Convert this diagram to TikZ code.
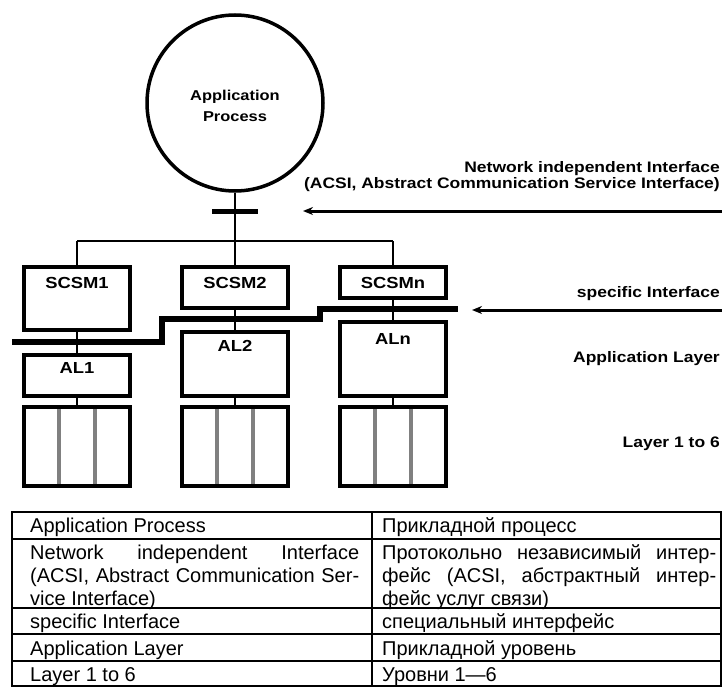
\documentclass[tikz,border=0pt]{standalone}
\usepackage{fontspec}
\setmainfont{Liberation Sans}
\newfontfamily\labfont{Liberation Sans}[FakeStretch=1.15]
\usetikzlibrary{arrows.meta,calc}
\begin{document}
\begin{tikzpicture}[x=1pt,y=-1pt,
  box/.style={draw,line width=4.5pt,minimum width=106pt,inner sep=0pt,outer sep=0pt},
  conn/.style={line width=2.6pt},
  iface/.style={line width=6.5pt},
  arr/.style={line width=3pt,-{Stealth[length=10pt,width=8pt]}},
  grayline/.style={line width=4pt,draw=black!50},
  blab/.style={font=\labfont\bfseries\fontsize{16}{16}\selectfont,inner sep=0pt},
  rlab/.style={font=\labfont\bfseries\fontsize{15.2}{15.2}\selectfont,inner sep=0pt,anchor=base east},
  tab/.style={line width=1.4pt},
  tt/.style={font=\fontsize{20}{24}\selectfont,inner sep=0pt,anchor=base west}
]
\useasboundingbox (0,0) rectangle (722,687);
% circle
\node[draw,circle,line width=3.5pt,minimum size=176pt,inner sep=0pt] (ap) at (235,103) {};
\node[blab,font=\labfont\bfseries\fontsize{14.3}{14.3}\selectfont,anchor=base] (apt1) at (235,101) {Application};
\node[blab,font=\labfont\bfseries\fontsize{14.3}{14.3}\selectfont,anchor=base] (apt2) at (235,122) {Process};
% bus
\coordinate (b1) at (77,241);
\coordinate (b2) at (235,241);
\coordinate (b3) at (393,241);
% boxes
\node[box,minimum height=63pt] (s1) at (77,298.5) {};
\node[box,minimum height=41pt] (s2) at (235,287.5) {};
\node[box,minimum height=31pt] (s3) at (393,282.5) {};
\node[box,minimum height=41pt] (a1) at (77,375.5) {};
\node[box,minimum height=64pt] (a2) at (235,364) {};
\node[box,minimum height=74pt] (a3) at (393,359) {};
\node[box,minimum height=79pt] (l1) at (77,446.5) {};
\node[box,minimum height=79pt] (l2) at (235,446.5) {};
\node[box,minimum height=79pt] (l3) at (393,446.5) {};
% box labels
\node[blab,anchor=base] (s1t) at (77,288) {SCSM1};
\node[blab,anchor=base] (s2t) at (235,288) {SCSM2};
\node[blab,anchor=base] (s3t) at (393,288) {SCSMn};
\node[blab,anchor=base] (a1t) at (77,373) {AL1};
\node[blab,anchor=base] (a2t) at (235,351) {AL2};
\node[blab,anchor=base] (a3t) at (393,344) {ALn};
% connectors
\draw[conn] (ap.south) -- (b2);
\draw[conn] (b1) -- (b3);
\draw[conn] (b1) -- (s1.north);
\draw[conn] (b2) -- (s2.north);
\draw[conn] (b3) -- (s3.north);
\foreach \i in {1,2,3}{
  \draw[conn] (s\i.south) -- (a\i.north);
  \draw[conn] (a\i.south) -- (l\i.north);
  \draw[grayline] ($(l\i.north west)!1/3!(l\i.north east)+(0,2.25)$) -- ($(l\i.south west)!1/3!(l\i.south east)+(0,-2.25)$);
  \draw[grayline] ($(l\i.north west)!2/3!(l\i.north east)+(0,2.25)$) -- ($(l\i.south west)!2/3!(l\i.south east)+(0,-2.25)$);
}
\foreach \i in {1,2,3}{\node[box,minimum height=79pt] at (l\i) {};}
% tick
\coordinate (t1) at (212,211);
\coordinate (t2) at (258,211);
\draw[line width=5pt] (t1) -- (t2);
% specific interface line
\coordinate (i0) at (12,342);
\coordinate (i1) at (162,342);
\coordinate (i2) at (162,319);
\coordinate (i3) at (320,319);
\coordinate (i4) at (320,309);
\coordinate (i5) at (458,309);
\draw[iface] (i0) -- (i1) -- (i2) -- (i3) -- (i4) -- (i5);
% arrows
\coordinate (n0) at (722,211);
\coordinate (n1) at (303,211);
\draw[arr] (n0) -- (n1);
\coordinate (p0) at (722,310);
\coordinate (p1) at (472,310);
\draw[arr] (p0) -- (p1);
% right labels
\node[rlab] (r1) at (720,173) {Network independent Interface};
\node[rlab] (r2) at (720,188) {(ACSI, Abstract Communication Service Interface)};
\node[rlab] (r3) at (720,297) {specific Interface};
\node[rlab] (r4) at (720,362) {Application Layer};
\node[rlab] (r5) at (720,447) {Layer 1 to 6};
% table
\draw[tab] (12,512) rectangle (721,686);
\draw[tab] (372,512) -- (372,686);
\foreach \y in {539,608,634,661}{\draw[tab] (12,\y) -- (721,\y);}
\node[tt] (c11) at (30,532) {Application Process};
\node[tt] (c12) at (382,532) {Прикладной процесс};
\node[tt] (c21a) at (30,559) {\makebox[329pt][s]{Network independent Interface}};
\node[tt] (c21b) at (30,582) {\makebox[329pt][s]{(ACSI, Abstract Communication Ser-}};
\node[tt] (c21c) at (30,605) {vice Interface)};
\node[tt] (c22a) at (382,559) {\makebox[334pt][s]{Протокольно независимый интер-}};
\node[tt] (c22b) at (382,582) {\makebox[334pt][s]{фейс (ACSI, абстрактный интер-}};
\node[tt] (c22c) at (382,605) {фейс услуг связи)};
\node[tt] (c31) at (30,628) {specific Interface};
\node[tt] (c32) at (382,628) {специальный интерфейс};
\node[tt] (c41) at (30,655) {Application Layer};
\node[tt] (c42) at (382,655) {Прикладной уровень};
\node[tt] (c51) at (30,681) {Layer 1 to 6};
\node[tt] (c52) at (382,681) {Уровни 1—6};
\end{tikzpicture}
\end{document}
